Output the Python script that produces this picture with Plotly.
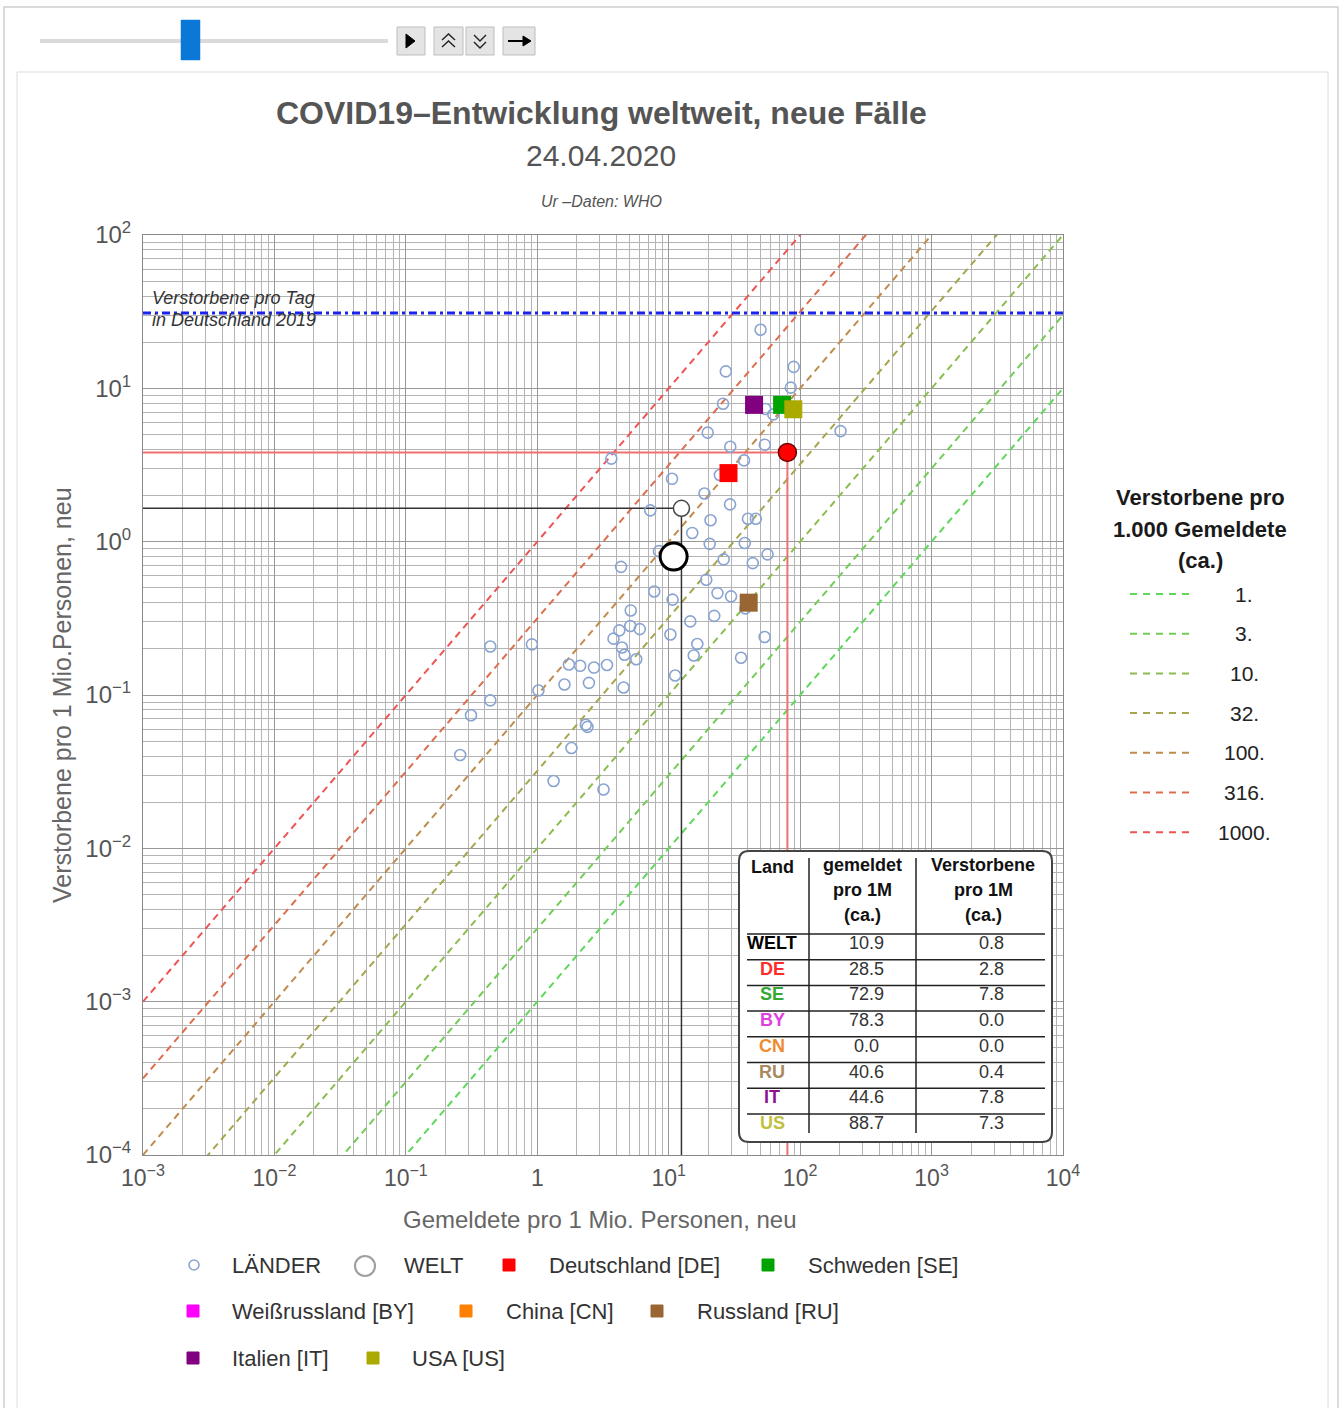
import plotly.graph_objects as go

# ---------------- data ----------------
# countries (LÄNDER): new reported cases per 1M (x), new deaths per 1M (y)
lander_x = [50.0, 27.2, 89.3, 84.9, 25.9, 54.3, 62.5, 19.8, 203, 3.66, 29.4, 53.8, 37.4, 10.6,
            24.5, 18.7, 29.3, 7.24, 20.8, 40.1, 46.0, 15.1, 20.5, 37.9, 8.43, 26.2, 43.6, 56.5,
            4.34, 19.3, 7.76, 10.7, 23.5, 29.8, 38.3, 5.14, 22.2, 14.6, 4.21, 5.10, 6.02, 3.80,
            10.3, 53.7, 16.5, 4.41, 4.61, 5.66, 15.5, 35.5, 11.2, 0.439, 0.910, 1.74, 2.12, 2.70,
            3.39, 1.61, 2.47, 4.53, 1.02, 0.439, 0.313, 2.34, 2.41, 1.82, 0.259, 1.33, 3.19]
lander_y = [24.1, 12.9, 13.8, 10.1, 7.94, 7.34, 6.76, 5.14, 5.26, 3.48, 4.16, 4.29, 3.39, 2.57,
            2.72, 2.06, 1.75, 1.60, 1.38, 1.41, 1.41, 1.14, 0.968, 0.98, 0.867, 0.767, 0.725, 0.826,
            0.685, 0.565, 0.473, 0.419, 0.462, 0.440, 0.367, 0.356, 0.328, 0.302, 0.264, 0.282, 0.269, 0.233,
            0.248, 0.239, 0.215, 0.204, 0.183, 0.171, 0.181, 0.175, 0.134, 0.207, 0.214, 0.158, 0.155, 0.151,
            0.157, 0.117, 0.120, 0.112, 0.107, 0.0923, 0.0738, 0.064, 0.062, 0.0451, 0.0406, 0.0275, 0.0242]

welt_reported = 10.9
welt_deaths = 0.8

codes = ["DE", "SE", "BY", "CN", "RU", "IT", "US"]
names = ["Deutschland", "Schweden", "Weißrussland", "China", "Russland", "Italien", "USA"]
reported = [28.5, 72.9, 78.3, 0.0, 40.6, 44.6, 88.7]
deaths = [2.8, 7.8, 0.0, 0.0, 0.4, 7.8, 7.3]
marker_colors = ["#ff0000", "#00a400", "#ff00ff", "#ff8000", "#996633", "#800080", "#aaaa00"]
code_colors = ["#ff2a2a", "#33a833", "#e040e0", "#f08a30", "#a88a60", "#901090", "#c0c040"]

welt_ref_x, welt_ref_y = 12.5, 1.65
de_ref_x, de_ref_y = 80.0, 3.82

ratio_levels = [1, 3, 10, 32, 100, 316, 1000]
ratio_labels = ["1.", "3.", "10.", "32.", "100.", "316.", "1000."]
ratio_colors = ["#5fd85a", "#72cc55", "#8cbc50", "#a6a64e", "#c08c4e", "#dc6e4e", "#ee5454"]

de_daily_deaths = 31.0

x_tickvals = [1e-3, 1e-2, 1e-1, 1, 1e1, 1e2, 1e3, 1e4]
x_ticktext = ["10<sup>−3</sup>", "10<sup>−2</sup>", "10<sup>−1</sup>", "1",
              "10<sup>1</sup>", "10<sup>2</sup>", "10<sup>3</sup>", "10<sup>4</sup>"]
y_tickvals = [1e-4, 1e-3, 1e-2, 1e-1, 1, 1e1, 1e2]
y_ticktext = ["10<sup>−4</sup>", "10<sup>−3</sup>", "10<sup>−2</sup>", "10<sup>−1</sup>",
              "10<sup>0</sup>", "10<sup>1</sup>", "10<sup>2</sup>"]

# ---------------- layout helpers (pixel -> paper) ----------------
W, H = 1341, 1408
PL, PR, PT, PB = 143, 1063, 235, 1155
FONT = "Liberation Sans, Arial, sans-serif"


def X(p):
    return (p - PL) / (PR - PL)


def Y(p):
    return (PB - p) / (PB - PT)


def path(points, closed=False):
    s = "M " + " L ".join(f"{X(a):.5f},{Y(b):.5f}" for a, b in points)
    return s + (" Z" if closed else "")


def rounded_rect(x0, y0, x1, y1, r):
    s = f"M {X(x0 + r):.5f},{Y(y0):.5f} L {X(x1 - r):.5f},{Y(y0):.5f} "
    s += f"Q {X(x1):.5f},{Y(y0):.5f} {X(x1):.5f},{Y(y0 + r):.5f} "
    s += f"L {X(x1):.5f},{Y(y1 - r):.5f} Q {X(x1):.5f},{Y(y1):.5f} {X(x1 - r):.5f},{Y(y1):.5f} "
    s += f"L {X(x0 + r):.5f},{Y(y1):.5f} Q {X(x0):.5f},{Y(y1):.5f} {X(x0):.5f},{Y(y1 - r):.5f} "
    s += f"L {X(x0):.5f},{Y(y0 + r):.5f} Q {X(x0):.5f},{Y(y0):.5f} {X(x0 + r):.5f},{Y(y0):.5f} Z"
    return s


shapes = []
annotations = []


def rect(x0, y0, x1, y1, fill=None, line="#000", lw=1, layer="above"):
    shapes.append(dict(type="rect", xref="paper", yref="paper", x0=X(x0), x1=X(x1), y0=Y(y1), y1=Y(y0),
                       fillcolor=fill, line=dict(color=line, width=lw), layer=layer))


def hline(x0, x1, y, color, lw=1, dash="solid"):
    shapes.append(dict(type="line", xref="paper", yref="paper", x0=X(x0), x1=X(x1), y0=Y(y), y1=Y(y),
                       line=dict(color=color, width=lw, dash=dash)))


def vline(x, y0, y1, color, lw=1):
    shapes.append(dict(type="line", xref="paper", yref="paper", x0=X(x), x1=X(x), y0=Y(y0), y1=Y(y1),
                       line=dict(color=color, width=lw)))


def text(x, y, s, size, color="#333", xanchor="center", bold=False, italic=False, angle=0):
    if bold:
        s = f"<b>{s}</b>"
    if italic:
        s = f"<i>{s}</i>"
    annotations.append(dict(xref="paper", yref="paper", x=X(x), y=Y(y), text=s, showarrow=False,
                            xanchor=xanchor, yanchor="middle", textangle=angle,
                            font=dict(family=FONT, size=size, color=color)))


# ---------------- figure ----------------
fig = go.Figure()

# deaths-per-1000-reported reference diagonals
for k, c in zip(ratio_levels, ratio_colors):
    fig.add_trace(go.Scatter(x=[1e-3, 1e4], y=[1e-3 * k / 1000, 1e4 * k / 1000], mode="lines",
                             line=dict(color=c, width=2, dash="7px,5px"), hoverinfo="skip"))

# Germany daily deaths 2019
fig.add_trace(go.Scatter(x=[1e-3, 1e4], y=[de_daily_deaths, de_daily_deaths], mode="lines",
                         line=dict(color="#1a22ee", width=3, dash="8px,4px,3px,4px"), hoverinfo="skip"))

# reference cross-hair lines
fig.add_trace(go.Scatter(x=[1e-3, de_ref_x, de_ref_x], y=[de_ref_y, de_ref_y, 1e-4], mode="lines",
                         line=dict(color="#f07070", width=2), hoverinfo="skip"))
fig.add_trace(go.Scatter(x=[1e-3, welt_ref_x, welt_ref_x], y=[welt_ref_y, welt_ref_y, 1e-4], mode="lines",
                         line=dict(color="#333333", width=1.5), hoverinfo="skip"))

# countries
fig.add_trace(go.Scatter(x=lander_x, y=lander_y, mode="markers",
                         marker=dict(symbol="circle-open", size=11, color="#8aa4d2", line=dict(width=1.6))))

# world
fig.add_trace(go.Scatter(x=[welt_reported], y=[welt_deaths], mode="markers",
                         marker=dict(symbol="circle", size=27, color="white", line=dict(color="black", width=3))))
fig.add_trace(go.Scatter(x=[welt_ref_x], y=[welt_ref_y], mode="markers",
                         marker=dict(symbol="circle", size=16, color="white", line=dict(color="#444", width=1.5))))
fig.add_trace(go.Scatter(x=[de_ref_x], y=[de_ref_y], mode="markers",
                         marker=dict(symbol="circle", size=18, color="#ff0000", line=dict(color="#600", width=1.5))))

# highlighted countries
for code, rx, dy, col in zip(codes, reported, deaths, marker_colors):
    if rx > 0 and dy > 0:
        fig.add_trace(go.Scatter(x=[rx], y=[dy], mode="markers", name=code,
                                 marker=dict(symbol="square", size=18, color=col, line=dict(width=0))))

# ---------------- decorations ----------------
# outer panels
rect(4, 7, 1338, 1430, fill=None, line="#cfcfcf", lw=1.5, layer="below")
rect(17, 72, 1328, 1430, fill=None, line="#dcdcdc", lw=1, layer="below")

# slider + buttons
shapes.append(dict(type="line", xref="paper", yref="paper", x0=X(40), x1=X(388), y0=Y(41), y1=Y(41),
                   line=dict(color="#dadada", width=4)))
rect(181, 20, 200, 60, fill="#0b78d8", line="#0b78d8", lw=0.5)
for bx0, bx1 in [(397, 425), (434, 463), (466, 494), (503, 535)]:
    rect(bx0, 27, bx1, 55, fill="#e4e4e4", line="#bdbdbd", lw=1)
shapes.append(dict(type="path", xref="paper", yref="paper", path=path([(406, 34), (415, 41), (406, 48)], True),
                   fillcolor="black", line=dict(color="black", width=1)))
for pts in ([(442, 40), (448.5, 34), (455, 40)], [(442, 47), (448.5, 41), (455, 47)],
            [(474, 35), (480, 41), (486, 35)], [(474, 42), (480, 48), (486, 42)]):
    shapes.append(dict(type="path", xref="paper", yref="paper", path=path(pts),
                       line=dict(color="#222", width=1.4)))
shapes.append(dict(type="line", xref="paper", yref="paper", x0=X(508), x1=X(526), y0=Y(41), y1=Y(41),
                   line=dict(color="black", width=2)))
shapes.append(dict(type="path", xref="paper", yref="paper", path=path([(523, 36), (531, 41), (523, 46)], True),
                   fillcolor="black", line=dict(color="black", width=1)))

# titles
text(601, 113, "COVID19–Entwicklung weltweit, neue Fälle", 32, "#555", bold=True)
text(601, 155, "24.04.2020", 30, "#555")
text(601, 201, "Ur –Daten: WHO", 16, "#555", italic=True)

# axis titles
text(600, 1219, "Gemeldete pro 1 Mio. Personen, neu", 24, "#666")
text(62, 695, "Verstorbene pro 1 Mio.Personen, neu", 25, "#666", angle=-90)

# annotation for blue line
text(150, 298, "Verstorbene pro Tag", 18, "#333", xanchor="left", italic=True)
text(150, 320, "in Deutschland 2019", 18, "#333", xanchor="left", italic=True)

# table
shapes.append(dict(type="path", xref="paper", yref="paper", path=rounded_rect(739, 851, 1052, 1142, 10),
                   fillcolor="white", line=dict(color="#444", width=2)))
vline(809, 858, 1133, "#222", 1.5)
vline(916, 858, 1133, "#222", 1.5)
text(772, 867, "Land", 18, "#111", bold=True)
for i, s in enumerate(["gemeldet", "pro 1M", "(ca.)"]):
    text(862, 865 + 25 * i, s, 18, "#111", bold=True)
for i, s in enumerate(["Verstorbene", "pro 1M", "(ca.)"]):
    text(983, 865 + 25 * i, s, 18, "#111", bold=True)
row_codes = ["WELT"] + codes
row_cols = ["#000"] + code_colors
row_rep = [welt_reported] + reported
row_dea = [welt_deaths] + deaths
for i, (c, col, rv, dv) in enumerate(zip(row_codes, row_cols, row_rep, row_dea)):
    yc = 943 + 25.7 * i
    text(772, yc, c, 18, col, bold=True)
    text(866, yc, f"{rv:.1f}", 18, "#333")
    text(991, yc, f"{dv:.1f}", 18, "#333")
    hline(747, 1045, yc - 9, "#222", 1.5)

# right legend (ratio lines)
for i, s in enumerate(["Verstorbene pro", "1.000 Gemeldete", "(ca.)"]):
    text(1200, 498 + 31 * i, s, 22, "#1a1a1a", bold=True)
for i, (lab, c) in enumerate(zip(ratio_labels, ratio_colors)):
    yy = 594 + 39.7 * i
    hline(1130, 1193, yy, c, 2, "7px,6px")
    text(1244, yy, lab, 21, "#222")

# bottom legend
def leg_square(x, y, col):
    rect(x - 6, y - 6, x + 6, y + 6, fill=col, line=col, lw=1)


shapes.append(dict(type="circle", xref="paper", yref="paper", x0=X(189), x1=X(199), y0=Y(1270), y1=Y(1260),
                   line=dict(color="#8aa4d2", width=1.6)))
text(230, 1265, "LÄNDER", 22, "#333", xanchor="left")
shapes.append(dict(type="circle", xref="paper", yref="paper", x0=X(355), x1=X(375), y0=Y(1276), y1=Y(1256),
                   line=dict(color="#a0a0a0", width=2.2)))
text(402, 1265, "WELT", 22, "#333", xanchor="left")
legend_pos = [(509, 1265, 547), (768, 1265, 806), (193, 1311, 230), (466, 1311, 504),
              (657, 1311, 695), (193, 1358, 230), (373, 1358, 410)]
for (mx, my, tx), code, nm, col in zip(legend_pos, codes, names, marker_colors):
    leg_square(mx, my, col)
    text(tx, my, f"{nm} [{code}]", 22, "#333", xanchor="left")

# ---------------- axes ----------------
minor_vals = [m * 10 ** e for e in range(-4, 4) for m in range(2, 10)]
grid_major = "#989898"
grid_minor = "#b4b4b4"

fig.update_layout(
    width=W, height=H,
    margin=dict(l=PL, r=W - PR, t=PT, b=H - PB, pad=0),
    paper_bgcolor="white", plot_bgcolor="white",
    showlegend=False,
    font=dict(family=FONT),
    shapes=shapes, annotations=annotations,
    xaxis=dict(type="log", range=[-3, 4], tickmode="array", tickvals=x_tickvals, ticktext=x_ticktext,
               showgrid=True, gridcolor=grid_major, gridwidth=1, zeroline=False,
               showline=True, linecolor="#888", linewidth=1, mirror=True, ticks="",
               tickfont=dict(size=23, color="#555", family=FONT), ticklabelstandoff=2,
               minor=dict(tickmode="array", tickvals=minor_vals, showgrid=True, gridcolor=grid_minor, gridwidth=1)),
    yaxis=dict(type="log", range=[-4, 2], tickmode="array", tickvals=y_tickvals, ticktext=y_ticktext,
               showgrid=True, gridcolor=grid_major, gridwidth=1, zeroline=False,
               showline=True, linecolor="#888", linewidth=1, mirror=True, ticks="",
               tickfont=dict(size=24, color="#555", family=FONT), ticklabelstandoff=6,
               minor=dict(tickmode="array", tickvals=minor_vals, showgrid=True, gridcolor=grid_minor, gridwidth=1)),
)

fig.write_html("out.html")
